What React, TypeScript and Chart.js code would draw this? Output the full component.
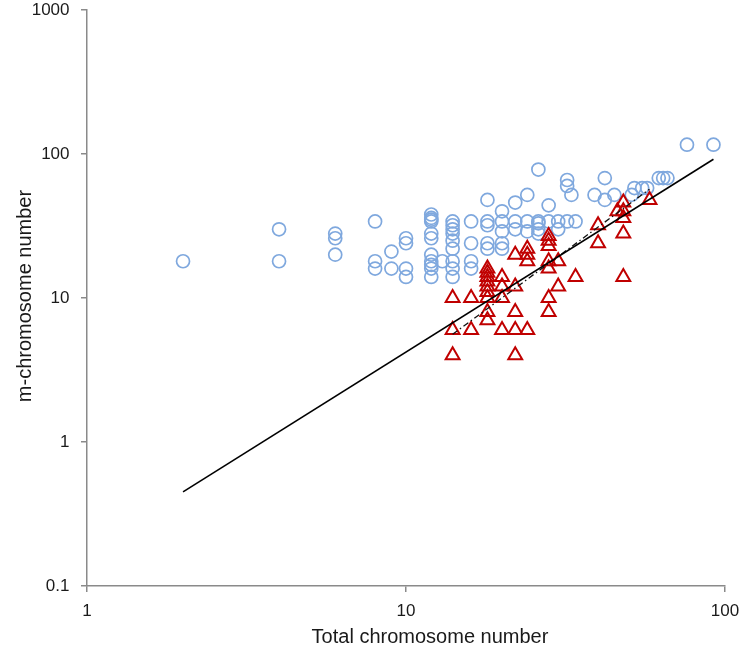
import React, { useEffect, useRef } from "react";
import { Chart, registerables } from "chart.js";

Chart.register(...registerables);

// ---- Data ----
const X_TITLE = "Total chromosome number";
const Y_TITLE = "m-chromosome number";
const X_TICKS = [1, 10, 100];
const Y_TICKS = [0.1, 1, 10, 100, 1000];

// Blue circles: total chromosome number / m-chromosome number
const circleTotal = [
  2,
  4, 4,
  6, 6, 6,
  8, 8, 8,
  9, 9,
  10, 10, 10, 10,
  12, 12, 12, 12, 12, 12, 12, 12, 12, 12, 12,
  13,
  14, 14, 14, 14, 14, 14, 14, 14, 14,
  16, 16, 16, 16,
  18, 18, 18, 18, 18,
  20, 20, 20, 20, 20,
  22, 22, 22,
  24, 24, 24,
  26, 26, 26, 26, 26,
  28, 28,
  30, 30,
  32, 32, 32,
  33,
  34,
  39,
  42, 42,
  45,
  51,
  52, 55, 57,
  62, 64, 66,
  76, 92,
];
const circleM = [
  18,
  30, 18,
  28, 26, 20,
  34, 18, 16,
  21, 16,
  26, 24, 16, 14,
  38, 36, 35, 34, 28, 26, 20, 18, 17, 16, 14,
  18,
  34, 32, 30, 28, 25, 22, 18, 16, 14,
  34, 24, 18, 16,
  48, 34, 32, 24, 22,
  40, 34, 29, 24, 22,
  46, 34, 30,
  52, 34, 29,
  78, 34, 33, 30, 28,
  44, 34,
  34, 30,
  66, 60, 34,
  52,
  34,
  52,
  68, 48,
  52,
  52,
  58, 58, 58,
  68, 68, 68,
  116, 116,
];

// Red triangles
const triTotal = [
  14, 14, 14,
  16, 16,
  18, 18, 18, 18, 18, 18, 18, 18, 18,
  20, 20, 20, 20,
  22, 22, 22, 22, 22,
  24, 24, 24, 24,
  28, 28, 28, 28, 28, 28, 28,
  30, 30,
  34,
  40, 40,
  46,
  48, 48, 48, 48, 48,
  58,
];
const triM = [
  10, 6, 4,
  10, 6,
  16, 15, 14, 13, 12, 11, 10, 8, 7,
  14, 12, 10, 6,
  20, 12, 8, 6, 4,
  22, 20, 18, 6,
  27, 25, 23, 18, 16, 10, 8,
  18, 12,
  14,
  32, 24,
  40,
  46, 40, 36, 28, 14,
  48,
];

// Solid fitted line (all data) and dash-dot line (triangles)
const fitAllX = [2, 92];
const fitAllY = [0.45, 92];
const fitTriX = [14, 58];
const fitTriY = [5.6, 57];

// ---- Styles ----
const BLUE = "#7fa8de";
const RED = "#c00000";
const AXIS = "#8a8a8a";
const FONT = '"Liberation Sans", Arial, sans-serif';

const toPts = (xs: number[], ys: number[]) => xs.map((x, i) => ({ x, y: ys[i] }));

const titlePlugin = {
  id: "axisTitles",
  afterDraw(chart: any) {
    const ctx = chart.ctx;
    ctx.save();
    ctx.fillStyle = "#1a1a1a";
    ctx.font = `20px ${FONT}`;
    ctx.textAlign = "center";
    ctx.textBaseline = "middle";
    ctx.fillText(X_TITLE, 430, 637);
    ctx.translate(25, 296);
    ctx.rotate(-Math.PI / 2);
    ctx.fillText(Y_TITLE, 0, 0);
    ctx.restore();
  },
};

export default function App() {
  const ref = useRef<HTMLCanvasElement | null>(null);

  useEffect(() => {
    if (!ref.current) return;
    const chart = new Chart(ref.current, {
      type: "scatter",
      data: {
        datasets: [
          {
            label: "fit all",
            data: toPts(fitAllX, fitAllY),
            showLine: true,
            borderColor: "#000",
            borderWidth: 1.6,
            pointRadius: 0,
            order: 0,
          } as any,
          {
            label: "fit m",
            data: toPts(fitTriX, fitTriY),
            showLine: true,
            borderColor: "#111",
            borderWidth: 1.3,
            borderDash: [6, 3, 1.5, 3],
            pointRadius: 0,
            order: 1,
          } as any,
          {
            label: "triangles",
            data: toPts(triTotal, triM),
            pointStyle: "triangle",
            pointRadius: 8,
            borderWidth: 2,
            borderColor: RED,
            backgroundColor: "rgba(0,0,0,0)",
            order: 2,
          } as any,
          {
            label: "circles",
            data: toPts(circleTotal, circleM),
            pointStyle: "circle",
            pointRadius: 6.5,
            borderWidth: 1.7,
            borderColor: BLUE,
            backgroundColor: "rgba(0,0,0,0)",
            order: 3,
          } as any,
        ],
      },
      options: {
        responsive: false,
        animation: false,
        events: [],
        layout: { padding: { left: 0, right: 15, top: 7, bottom: 0 } },
        plugins: {
          legend: { display: false },
          tooltip: { enabled: false },
        },
        scales: {
          x: {
            type: "logarithmic",
            min: 1,
            max: 100,
            afterBuildTicks: (s: any) => {
              s.ticks = X_TICKS.map((v) => ({ value: v }));
            },
            afterFit: (s: any) => {
              s.height = 67;
              s.paddingLeft = 0;
              s.paddingRight = 0;
            },
            ticks: {
              autoSkip: false,
              maxRotation: 0,
              padding: 9,
              color: "#1a1a1a",
              font: { family: FONT, size: 17 },
              callback: (v: any) => String(v),
            },
            grid: {
              display: true,
              drawOnChartArea: false,
              drawTicks: true,
              tickLength: 6,
              color: AXIS,
              lineWidth: 1.5,
            },
            border: { display: true, color: AXIS, width: 1.5 },
          },
          y: {
            type: "logarithmic",
            min: 0.1,
            max: 1000,
            afterBuildTicks: (s: any) => {
              s.ticks = Y_TICKS.map((v) => ({ value: v }));
            },
            afterFit: (s: any) => {
              s.width = 87;
              s.paddingTop = 0;
              s.paddingBottom = 0;
            },
            ticks: {
              autoSkip: false,
              padding: 11.5,
              color: "#1a1a1a",
              font: { family: FONT, size: 17 },
              callback: (v: any) => String(v),
            },
            grid: {
              display: true,
              drawOnChartArea: false,
              drawTicks: true,
              tickLength: 6,
              color: AXIS,
              lineWidth: 1.5,
            },
            border: { display: true, color: AXIS, width: 1.5 },
          },
        },
      } as any,
      plugins: [titlePlugin],
    });
    return () => chart.destroy();
  }, []);

  return (
    <div style={{ position: "absolute", left: 0, top: 0, width: 740, height: 653, background: "#fff" }}>
      <canvas ref={ref} width={740} height={653} />
    </div>
  );
}
